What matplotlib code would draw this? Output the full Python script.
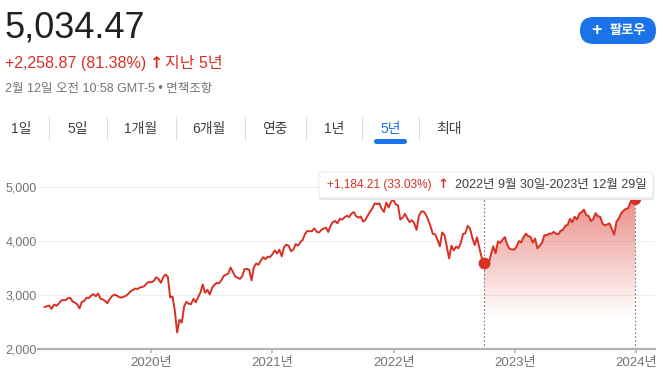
import numpy as np
import pandas as pd
import matplotlib
matplotlib.use('Agg')
from matplotlib import pyplot as plt
import matplotlib.dates as mdates
from matplotlib.patches import FancyBboxPatch
from matplotlib.lines import Line2D
from matplotlib.transforms import Affine2D

plt.rcParams['font.family'] = ['Liberation Sans', 'Noto Sans CJK KR', 'DejaVu Sans']

# weekly closes
dates = pd.date_range('2019-02-15', '2024-02-09', freq='W-FRI')
closes = [
    2775, 2793, 2804, 2743, 2822, 2800, 2834, 2893, 2907, 2905, 2940, 2946, 2881,
    2860, 2826, 2752, 2873, 2887, 2950, 2942, 2990, 3014, 2977, 3026, 2932, 2919,
    2889, 2847, 2926, 2979, 3007, 2992, 2962, 2952, 2970, 2986, 3023, 3067, 3093,
    3120, 3110, 3141, 3146, 3169, 3221, 3240,
    # 2020
    3235, 3265, 3330, 3295, 3225, 3328, 3380, 3338, 2954, 2972, 2711, 2305, 2541,
    2489, 2790, 2875, 2837, 2831, 2930, 2864, 2955, 3044, 3194, 3041, 3098, 3009,
    3130, 3185, 3225, 3216, 3271, 3351, 3373, 3397, 3508, 3427, 3341, 3319, 3298,
    3348, 3477, 3484, 3465, 3270, 3510, 3585, 3558, 3638, 3699, 3663, 3709, 3703,
    # 2021
    3756, 3825, 3768, 3841, 3714, 3887, 3934, 3907, 3811, 3842, 3943, 3913, 3975,
    4020, 4129, 4185, 4180, 4181, 4233, 4173, 4156, 4204, 4230, 4247, 4166, 4281,
    4352, 4370, 4327, 4412, 4395, 4437, 4468, 4442, 4509, 4535, 4459, 4433, 4455,
    4357, 4391, 4471, 4545, 4605, 4697, 4683, 4698, 4595, 4538, 4712, 4620, 4726,
    4766,
    # 2022
    4677, 4662, 4398, 4432, 4501, 4419, 4349, 4385, 4329, 4204, 4463, 4543, 4546,
    4488, 4393, 4272, 4132, 4123, 4024, 3901, 4158, 4109, 3901, 3675, 3912, 3825,
    3899, 3863, 3962, 4130, 4145, 4280, 4228, 4058, 3924, 4067, 3873, 3693, 3586,
    3640, 3583, 3752, 3901, 3771, 3993, 3965, 4026, 4072, 3934, 3852, 3845, 3840,
    # 2023
    3895, 3999, 3973, 4071, 4136, 4090, 4079, 3970, 4046, 3862, 3917, 3971, 4109,
    4105, 4138, 4133, 4169, 4136, 4124, 4192, 4205, 4282, 4299, 4410, 4348, 4450,
    4399, 4505, 4536, 4582, 4478, 4464, 4370, 4406, 4516, 4457, 4450, 4320, 4288,
    4308, 4327, 4224, 4117, 4358, 4415, 4514, 4559, 4595, 4604, 4719, 4755, 4770,
    # 2024
    4697, 4784, 4840, 4891, 4959, 5027,
]
sel_start = '2022-09-30'
sel_end = '2023-12-29'
year_ticks = ['2020-01-01', '2021-01-01', '2022-01-01', '2023-01-01', '2024-01-01']
year_labels = ['2020년', '2021년', '2022년', '2023년', '2024년']
y_ticks = [2000, 3000, 4000, 5000]
tabs = ['1일', '5일', '1개월', '6개월', '연중', '1년', '5년', '최대']

RED = '#d93025'
GRAY = '#70757a'
DARK = '#3c4043'
BLUE = '#1a73e8'

W, H = 663, 379
fig = plt.figure(figsize=(W / 100, H / 100), dpi=100)
fig.patch.set_facecolor('white')
pxT = Affine2D().scale(1 / W, 1 / H) + fig.transFigure


def T(x, y, s, **kw):
    fig.text(x, H - y, s, transform=pxT, **kw)


x = mdates.date2num(dates.to_pydatetime())
y = np.array(closes, dtype=float)

ax = fig.add_axes([38 / W, (H - 349) / H, 617 / W, (349 - 165) / H])
ax.set_xlim(mdates.date2num(pd.Timestamp('2019-01-26')), mdates.date2num(pd.Timestamp('2024-02-27')))
ax.set_ylim(2000, 5407)

# gradient fill under selected range
m = (dates >= sel_start) & (dates <= sel_end)
xs, ys = x[m], y[m]
poly = ax.fill_between(xs, ys, 2000, color='none', lw=0)
grad = np.zeros((256, 1, 4))
grad[..., :3] = matplotlib.colors.to_rgb(RED)
vals = np.linspace(5407, 2000, 256)
grad[:, 0, 3] = np.clip((vals - 2600) / (4800 - 2600), 0, 1) * 0.55
im = ax.imshow(grad, extent=[xs[0], xs[-1], 2000, 5407], aspect='auto', zorder=1, interpolation='bilinear')
im.set_clip_path(poly.get_paths()[0], transform=ax.transData)

ax.plot(x, y, color=RED, lw=1.4, zorder=3, solid_joinstyle='round')
ax.plot(xs[0], ys[0], 'o', color=RED, ms=7.5, zorder=4, clip_on=False)
ax.plot(xs[-1], ys[-1], 'o', color=RED, ms=7, zorder=4, clip_on=False)

# dotted selection markers
for d in (sel_start, sel_end):
    ax.plot([mdates.date2num(pd.Timestamp(d))] * 2, [2000, 4780], ls=(0, (1.5, 2)),
            color=GRAY, lw=0.8, zorder=2, clip_on=False)

for s in ('top', 'right', 'left'):
    ax.spines[s].set_visible(False)
ax.spines['bottom'].set_color('#b4b4b4')
ax.spines['bottom'].set_linewidth(1.6)
ax.set_yticks(y_ticks)
ax.set_yticklabels([f'{v:,}' for v in y_ticks])
ax.grid(axis='y', color='#eeeeee', lw=0.8)
ax.set_axisbelow(True)
ax.tick_params(axis='y', length=0, pad=1, labelsize=9, labelcolor=GRAY)
ax.set_xticks(mdates.date2num([pd.Timestamp(t) for t in year_ticks]))
ax.set_xticklabels(year_labels)
ax.tick_params(axis='x', length=3, width=1.2, color='#b4b4b4', pad=3, labelsize=9.5, labelcolor=GRAY)

# header
T(5, 37, '5,034.47', fontsize=26, color='#202124', va='baseline')
T(5, 68, '+2,258.87 (81.38%)', fontsize=11.5, color=RED, va='baseline')
T(150, 68, '↑', fontsize=11.5, color=RED, va='baseline', fontweight='bold', family=['DejaVu Sans'])
T(165, 68, '지난 5년', fontsize=11.5, color=RED, va='baseline')
T(5, 92, '2월 12일 오전 10:58 GMT-5 • 면책조항', fontsize=9, color=GRAY, va='baseline')

# follow button
fig.patches.append(FancyBboxPatch((580, H - 44), 76, 27, boxstyle='round,pad=0,rounding_size=13.5',
                                  fc=BLUE, ec='none', transform=pxT, figure=fig))
T(597, 31, '+', fontsize=13, color='white', ha='center', va='center', fontweight='bold')
T(628, 31, '팔로우', fontsize=9.5, color='white', ha='center', va='center', fontweight='bold')

# range tabs
tab_x = [21, 78, 141, 209, 275, 334, 391, 449]
for tx, lab in zip(tab_x, tabs):
    T(tx, 129, lab, fontsize=10, color=BLUE if lab == '5년' else DARK, ha='center', va='center')
for sx in [49, 107, 176, 245, 306, 362, 419]:
    fig.lines.append(Line2D([sx, sx], [H - 117, H - 139], color='#dadce0', lw=0.8, transform=pxT))
fig.patches.append(FancyBboxPatch((374, H - 144), 33, 5, boxstyle='round,pad=0,rounding_size=2.5',
                                  fc=BLUE, ec='none', transform=pxT, figure=fig))

# tooltip
fig.patches.append(FancyBboxPatch((319, H - 200), 335, 27, boxstyle='round,pad=0,rounding_size=3',
                                  fc='#e6e6e6', ec='none', transform=pxT, figure=fig, zorder=5))
fig.patches.append(FancyBboxPatch((319, H - 198), 334, 26, boxstyle='round,pad=0,rounding_size=3',
                                  fc='white', ec='#e8e8e8', lw=0.6, transform=pxT, figure=fig, zorder=6))
T(327, 185, '+1,184.21 (33.03%)', fontsize=8.6, color=RED, va='center', zorder=7)
T(437, 185, '↑', fontsize=9.5, color=RED, va='center', fontweight='bold', family=['DejaVu Sans'], zorder=7)
T(455, 185, '2022년 9월 30일-2023년 12월 29일', fontsize=9, color=DARK, va='center', zorder=7)

fig.savefig('out.png', dpi=100)
